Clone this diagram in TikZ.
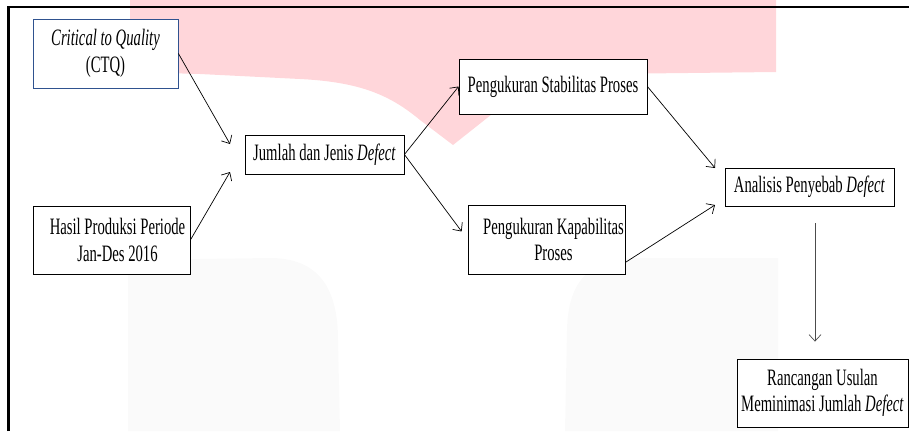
\documentclass[tikz,border=0pt]{standalone}
\usepackage{fontspec}
\setmainfont{Liberation Serif}[FakeStretch=0.625]
\usetikzlibrary{arrows.meta,calc}
\definecolor{wmpink}{RGB}{255,214,218}
\definecolor{wmgray}{RGB}{250,250,250}
\definecolor{ctqblue}{RGB}{47,82,143}
\begin{document}
\begin{tikzpicture}[x=1pt,y=-1pt,
  box/.style={draw=black, line width=0.8pt, fill=white, inner sep=0pt, align=center,
    font=\fontsize{23.5pt}{26.5pt}\selectfont},
  arr/.style={line width=0.7pt, -{Straight Barb[length=6.5pt,width=12pt]}}]
\useasboundingbox (0,0) rectangle (909,431);
% watermark shapes
\fill[wmpink] (130,0) -- (776,0) -- (776,72) -- (600,74) -- (540,76)
  -- (453,145) -- (420,120) .. controls (390,95) and (360,82) .. (300,79)
  -- (200,74) -- (130,72) -- cycle;
\fill[wmgray] (128,431) -- (128,260) -- (270,258)
  .. controls (320,258) and (338,290) .. (338,340) -- (340,431) -- cycle;
\fill[wmgray] (565,431) -- (567,330) .. controls (568,280) and (590,258) .. (640,258)
  -- (778,258) -- (778,431) -- cycle;
% frame
\draw[line width=2.5pt] (8.5,431) -- (8.5,7) -- (909,7);
% nodes
\node[box, draw=ctqblue, minimum width=145pt, minimum height=69pt] (ctq) at (105.5,53.5)
  {\textit{Critical to Quality}\\(CTQ)};
\node[box, minimum width=157pt, minimum height=68pt] (hasil) at (111.5,240)
  {\hspace*{12pt}Hasil Produksi Periode\\\hspace*{12pt}Jan-Des 2016};
\node[box, minimum width=159pt, minimum height=39pt] (jum) at (324.5,154.5)
  {Jumlah dan Jenis \textit{Defect}};
\node[box, minimum width=188pt, minimum height=55pt] (stab) at (553,86.5)
  {Pengukuran Stabilitas Proses};
\node[box, minimum width=157pt, minimum height=69pt] (kap) at (546.5,239.5)
  {\hspace*{14pt}Pengukuran Kapabilitas\\\hspace*{14pt}Proses};
\node[box, minimum width=169pt, minimum height=38pt] (anal) at (809.5,187)
  {Analisis Penyebab \textit{Defect}};
\node[box, minimum width=171pt, minimum height=68pt] (ranc) at (822.5,393)
  {Rancangan Usulan\\Meminimasi Jumlah \textit{Defect}};
% connector ends
\coordinate (j1) at (230,144);
\coordinate (j2) at (230,172);
\coordinate (a1) at (715,168);
\coordinate (a2) at (715,205);
% connectors
\draw[arr] (ctq.east) -- (j1);
\draw[arr] (hasil.east) -- (j2);
\draw[arr] (jum.east) -- (stab.west);
\draw[arr, shorten >=10pt] (jum.east) -- (kap.west);
\draw[arr] (stab.east) -- (a1);
\draw[arr] ([yshift=12pt]kap.south east) -- (a2);
\draw[arr, draw=black!70] ([xshift=5.5pt,yshift=-17pt]anal.south) -- ([xshift=-7.5pt,yshift=17pt]ranc.north);
\end{tikzpicture}
\end{document}
